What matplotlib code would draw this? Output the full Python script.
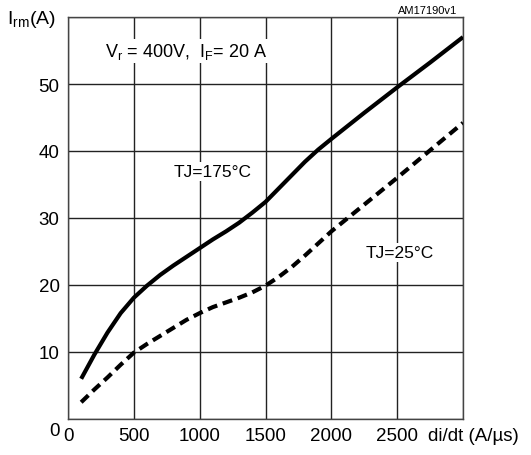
import matplotlib
matplotlib.use("Agg")
import matplotlib.pyplot as plt

plt.rcParams["font.family"] = ["Liberation Sans", "DejaVu Sans"]
plt.rcParams["mathtext.fontset"] = "custom"
plt.rcParams["mathtext.rm"] = "Liberation Sans"
plt.rcParams["mathtext.it"] = "Liberation Sans:italic"

# di/dt (A/us) sample points
didt = [100, 200, 300, 400, 500, 600, 700, 800, 900, 1000, 1100, 1200,
        1300, 1400, 1500, 1600, 1700, 1800, 1900, 2000, 2250, 2500, 2750, 3000]
irm_175 = [6.0, 9.6, 12.9, 15.8, 18.1, 19.9, 21.5, 22.9, 24.2, 25.5, 26.8, 28.0,
           29.3, 30.8, 32.4, 34.4, 36.4, 38.4, 40.2, 41.8, 45.7, 49.5, 53.2, 57.0]
irm_25 = [2.5, 4.4, 6.2, 8.1, 9.9, 11.2, 12.4, 13.6, 14.8, 15.8, 16.7, 17.4,
          18.1, 18.9, 19.9, 21.2, 22.7, 24.4, 26.2, 28.0, 32.0, 36.0, 40.1, 44.2]

xticks = [0, 500, 1000, 1500, 2000, 2500]
yticks = [10, 20, 30, 40, 50]

fig = plt.figure(figsize=(5.31, 4.56), dpi=100)
ax = fig.add_axes([68 / 531, 1 - 420 / 456, 395 / 531, 402 / 456])

ax.set_xlim(0, 3000)
ax.set_ylim(0, 60)
ax.set_xticks([0, 500, 1000, 1500, 2000, 2500, 3000])
ax.set_xticklabels([str(v) for v in xticks] + [""])
ax.set_yticks([0] + yticks + [60])
ax.set_yticklabels([""] + [str(v) for v in yticks] + [""])
ax.tick_params(length=0, labelsize=13.5, pad=6)
ax.grid(True, color="#222222", linewidth=1.0)
for s in ax.spines.values():
    s.set_color("#444444")
    s.set_linewidth(1.0)

ax.plot(didt, irm_175, color="black", linewidth=3.0, solid_capstyle="butt",
        solid_joinstyle="round", zorder=3)
ax.plot(didt, irm_25, color="black", linewidth=3.0, linestyle=(0, (2.4, 1.4)),
        dash_capstyle="butt", zorder=3)

box = dict(facecolor="white", edgecolor="none", pad=1.5)
ax.text(1096, 36.9, "TJ=175°C", ha="center", va="center", fontsize=12.5, bbox=box, zorder=2)
ax.text(2520, 24.9, "TJ=25°C", ha="center", va="center", fontsize=12.5, bbox=box, zorder=2)
ax.text(282, 54.9, r"V$_\mathrm{r}$ = 400V,  I$_\mathrm{F}$= 20 A", ha="left", va="center",
        fontsize=13, bbox=box, zorder=2)

# the "0" of the y axis sits a little below the axis line
fig.text(60 / 531, 1 - 432 / 456, "0", ha="right", va="center", fontsize=13.5)
fig.text(7 / 531, 1 - 19 / 456, r"I$_\mathrm{rm}$(A)", ha="left", va="center", fontsize=14)
fig.text(473 / 531, 1 - 437 / 456, "di/dt (A/µs)", ha="center", va="center", fontsize=13.5)
fig.text(428 / 531, 1 - 11 / 456, "AM17190v1", ha="center", va="center", fontsize=8)

fig.savefig("out.png", dpi=100)
